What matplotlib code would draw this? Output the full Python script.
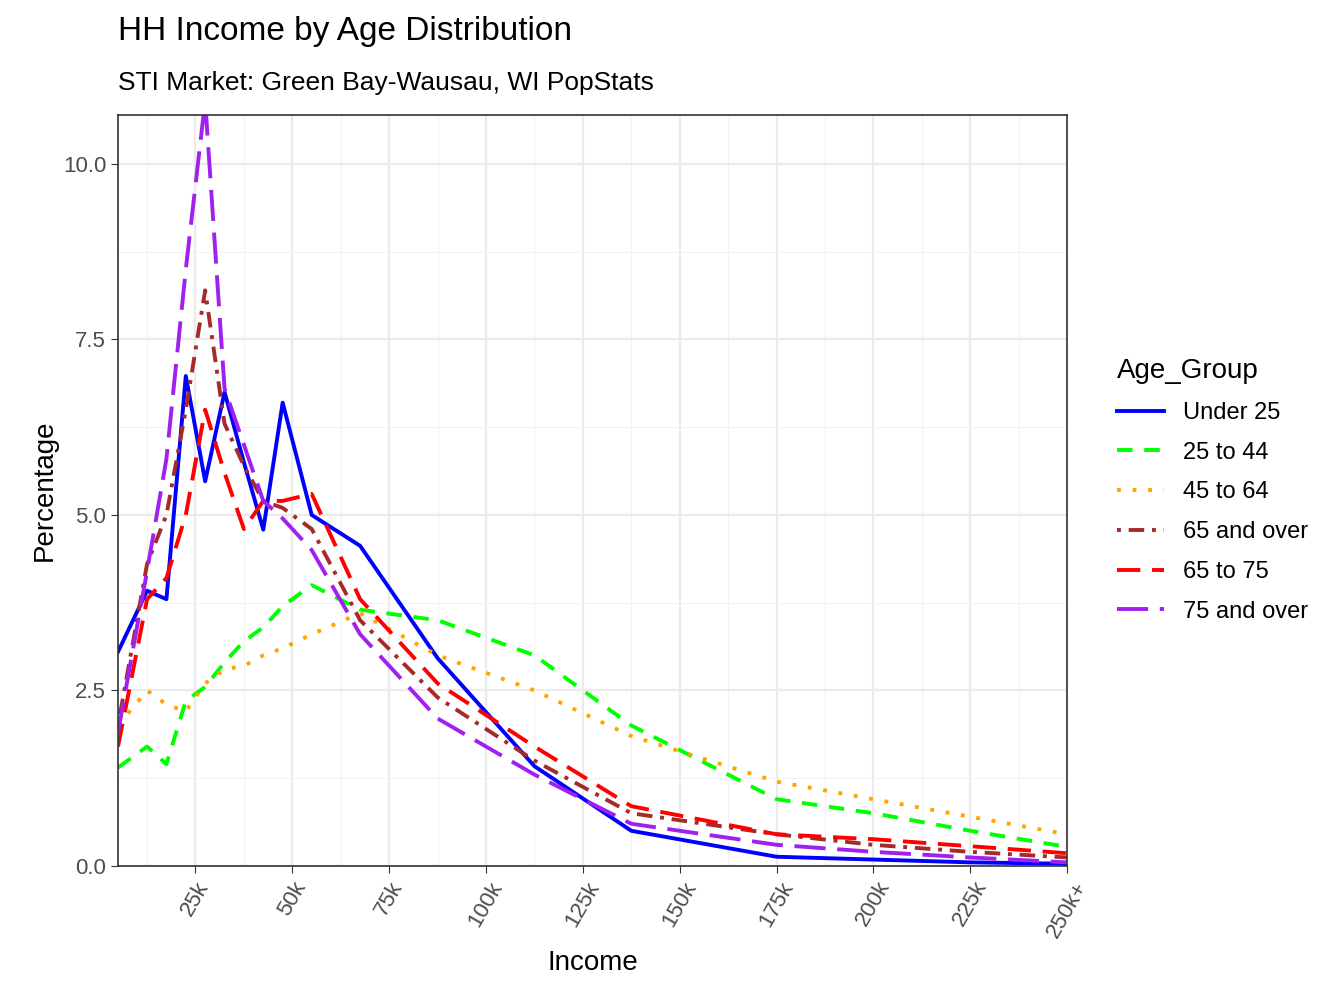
import matplotlib
matplotlib.use("Agg")
import matplotlib.pyplot as plt
from matplotlib.ticker import MultipleLocator

plt.rcParams["font.family"] = "Liberation Sans"

income_k = [5, 12.5, 17.5, 22.5, 27.5, 32.5, 37.5, 42.5, 47.5, 55, 67.5, 87.5, 112.5, 137.5, 175, 200, 225, 250]
under25 = [3.05, 3.92, 3.8, 6.98, 5.48, 6.75, 5.75, 4.79, 6.6, 5.0, 4.56, 2.96, 1.42, 0.5, 0.13, 0.09, 0.05, 0.03]
a25_44 = [1.4, 1.7, 1.45, 2.35, 2.55, 2.9, 3.2, 3.4, 3.7, 4.0, 3.65, 3.5, 3.0, 2.0, 0.95, 0.75, 0.5, 0.27]
a45_64 = [2.0, 2.5, 2.3, 2.2, 2.6, 2.8, 2.85, 3.0, 3.1, 3.3, 3.6, 3.0, 2.5, 1.85, 1.2, 0.95, 0.7, 0.45]
a65_over = [2.0, 4.3, 5.0, 6.5, 8.2, 6.3, 5.7, 5.2, 5.1, 4.8, 3.5, 2.4, 1.5, 0.75, 0.45, 0.3, 0.2, 0.12]
a65_75 = [1.7, 3.8, 4.1, 5.0, 6.5, 5.6, 4.8, 5.2, 5.2, 5.3, 3.8, 2.6, 1.7, 0.85, 0.45, 0.38, 0.28, 0.18]
a75_over = [1.9, 4.2, 5.8, 8.5, 10.9, 6.8, 6.0, 5.2, 4.95, 4.5, 3.3, 2.1, 1.3, 0.6, 0.3, 0.2, 0.12, 0.05]
xtick_vals = [25, 50, 75, 100, 125, 150, 175, 200, 225, 250]
xtick_labels = ["25k", "50k", "75k", "100k", "125k", "150k", "175k", "200k", "225k", "250k+"]

series = [
    ("Under 25", under25, "#0000FF", "-"),
    ("25 to 44", a25_44, "#00FF00", (0, (4, 3))),
    ("45 to 64", a45_64, "#FFA500", (0, (1, 3))),
    ("65 and over", a65_over, "#A52A2A", (0, (1, 2, 4, 2))),
    ("65 to 75", a65_75, "#FF0000", (0, (6, 3))),
    ("75 and over", a75_over, "#A020F0", (0, (8, 3))),
]

fig = plt.figure(figsize=(13.44, 10.08), dpi=100)
ax = fig.add_axes([0.0878, 0.141, 0.794 - 0.0878, 0.886 - 0.141])
for name, vals, col, ls in series:
    ax.plot(income_k, vals, color=col, linestyle=ls, linewidth=2.8, label=name)

ax.set_xlim(5, 250)
ax.set_ylim(0, 10.7)
ax.set_xticks(xtick_vals)
ax.set_xticklabels(xtick_labels, rotation=60, ha="center", va="top", fontsize=16, color="#4D4D4D")
ax.yaxis.set_minor_locator(MultipleLocator(1.25))
ax.xaxis.set_minor_locator(MultipleLocator(12.5))
ax.set_yticks([0, 2.5, 5, 7.5, 10])
ax.set_yticklabels(["0.0", "2.5", "5.0", "7.5", "10.0"], fontsize=16, color="#4D4D4D")
ax.grid(which="major", color="#EBEBEB", linewidth=1.6)
ax.grid(which="minor", color="#F2F2F2", linewidth=0.8)
ax.set_axisbelow(True)
ax.tick_params(which="minor", length=0)
ax.tick_params(which="major", length=5, color="#333333")
for s in ax.spines.values():
    s.set_color("#333333")
    s.set_linewidth(1.2)
ax.set_xlabel("Income", fontsize=20, labelpad=6)
ax.set_ylabel("Percentage", fontsize=20)
fig.text(0.0878, 0.953, "HH Income by Age Distribution", fontsize=24, va="bottom")
fig.text(0.0878, 0.906, "STI Market: Green Bay-Wausau, WI PopStats", fontsize=19, va="bottom")
leg = ax.legend(loc="center left", bbox_to_anchor=(1.03, 0.5), frameon=False, fontsize=17,
                title="Age_Group", title_fontsize=20, handlelength=2.0, labelspacing=0.75)
leg._legend_box.align = "left"
fig.savefig("out.png", dpi=100)
